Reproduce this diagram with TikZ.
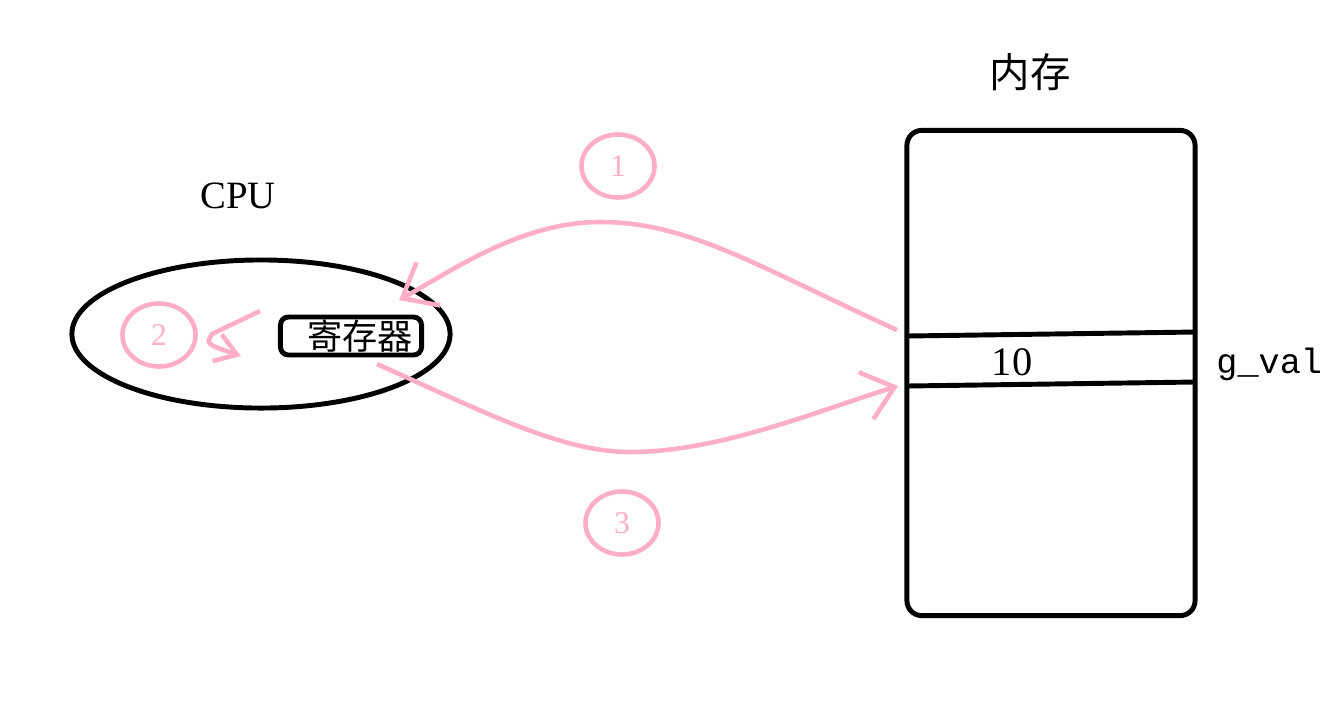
\documentclass[tikz,border=0pt]{standalone}
\usepackage{fontspec}
\setmainfont{Liberation Serif}
\setmonofont{Liberation Mono}
\newfontfamily\cjk{Noto Sans CJK SC}
\usetikzlibrary{arrows.meta, positioning, shapes.geometric}
\definecolor{pinkish}{RGB}{255,174,201}

\begin{document}
\begin{tikzpicture}[x=0.01cm, y=-0.01cm, line width=1.4pt,
    pinkline/.style={draw=pinkish, line width=1.3pt,
      -{Straight Barb[length=8.5pt, width=14pt, line width=1.3pt]}},
    stepnum/.style={draw=pinkish, ellipse, line width=1.3pt, minimum width=0.73cm,
      minimum height=0.63cm, inner sep=0pt, text=pinkish, font=\small}]
    \useasboundingbox (0,0) rectangle (1335,705);
    % cpu side
    \node[draw, ellipse, minimum width=3.78cm, minimum height=1.48cm,
      inner sep=0pt] (cpu) at (261,334) {};
    \node[draw, rounded corners=0.08cm, minimum width=1.41cm,
      minimum height=0.38cm, inner sep=0pt, font=\cjk\fontsize{10}{12}\selectfont]
      (reg) at (351,336) {\hspace{0.5em}寄存器};
    \node[font=\fontsize{11}{13}\selectfont] (cpulabel) at (238,196) {CPU};
    % memory side
    \node[draw, rounded corners=0.15cm, minimum width=2.88cm,
      minimum height=4.85cm, inner sep=0pt] (mem) at (1051,373) {};
    \node[font=\cjk\fontsize{11.5}{14}\selectfont] (memlabel) at (1030,72) {内存};
    \coordinate (celltl) at (907,336);
    \coordinate (celltr) at (1196,332);
    \coordinate (cellbl) at (907,386);
    \coordinate (cellbr) at (1196,382);
    \draw (celltl) -- (celltr);
    \draw (cellbl) -- (cellbr);
    \node[font=\fontsize{11.5}{14}\selectfont] (val) at (1012,362) {10};
    \node[anchor=west, font=\ttfamily\fontsize{10}{12}\selectfont, inner sep=0pt]
      (name) at (1214,364) {g\_val};
    % steps
    \node[stepnum] (one) at (618,166) {1};
    \node[stepnum] (two) at (159,335) {2};
    \node[stepnum] (three) at (622,523) {3};
    \coordinate (load) at (897,330);
    \coordinate (tipone) at (399,300);
    \coordinate (store) at (377,364);
    \coordinate (tipthree) at (898,386);
    \draw[pinkline] (load) .. controls (760,268) and (690,222) .. (600,222)
      .. controls (520,222) and (450,272) .. (tipone);
    \draw[pinkline, -{Straight Barb[length=6pt, width=8pt, line width=1.3pt]}]
      (260,311) -- (212,334) .. controls (206,344) .. (241,356);
    \draw[pinkline] (store) .. controls (480,410) and (560,452) .. (630,452)
      .. controls (720,452) and (820,410) .. (tipthree);
\end{tikzpicture}
\end{document}
